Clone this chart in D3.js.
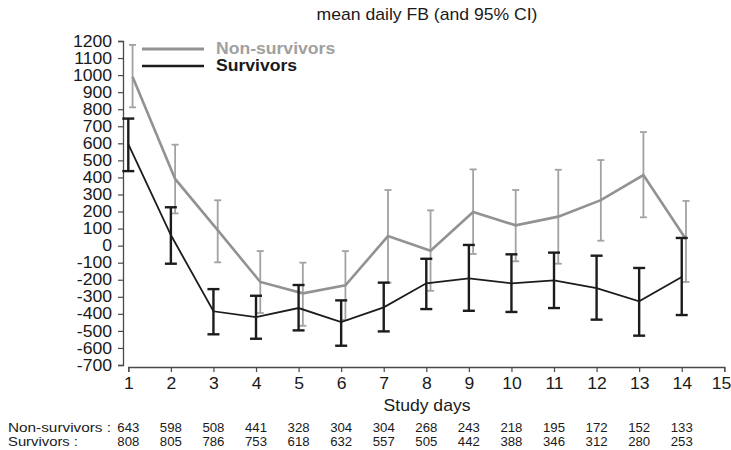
<!DOCTYPE html>
<html><head><meta charset="utf-8">
<script src="https://cdn.jsdelivr.net/npm/d3@7"></script>
<style>body{margin:0;background:#fff}svg{display:block}text{font-family:"Liberation Sans",Arial,sans-serif}</style>
</head><body>
<svg id="c" width="731" height="450"></svg>
<script>
const days = [1,2,3,4,5,6,7,8,9,10,11,12,13,14];
const nonSurvMean  = [990, 391, 91, -213, -280, -233, 56, -30, 197, 119, 170, 267, 414, 37];
const nonSurvUpper = [1177, 592, 266, -32, -100, -32, 326, 207, 447, 326, 445, 502, 666, 262];
const nonSurvLower = [811, 189, -98, -395, -470, -436, -217, -265, -49, -92, -106, 29, 166, -213];
const survMean  = [595, 62, -385, -419, -366, -448, -362, -221, -192, -221, -204, -249, -327, -184];
const survUpper = [745, 225, -255, -294, -231, -321, -217, -77, 4, -51, -41, -59, -131, 45];
const survLower = [437, -106, -520, -546, -497, -587, -503, -372, -382, -389, -366, -434, -528, -407];
const xTicks = [1,2,3,4,5,6,7,8,9,10,11,12,13,14,15];
const yTicks = [1200,1100,1000,900,800,700,600,500,400,300,200,100,0,-100,-200,-300,-400,-500,-600,-700];
const nNonSurv = [643,598,508,441,328,304,304,268,243,218,195,172,152,133];
const nSurv    = [808,805,786,753,618,632,557,505,442,388,346,312,280,253];

const SX = 1.1;
const GREY_LINE = "#929292", GREY_BAR = "#a2a2a2", BLACK = "#1c1c1c", AXIS = "#4a4a4a";
const greyOffset = 0.1;
const fmt = d => String(d);

const svg = d3.select("#c");
const x = d3.scaleLinear().domain([1,15]).range([128.3, 724.3]);
const y = d3.scaleLinear().domain([-700,1200]).range([365, 41]);

function stext(g, tx, ty, str, size, anchor, opts={}) {
  const t = g.append("text")
    .attr("transform", `translate(${tx},${ty}) scale(${SX},1)`)
    .attr("font-size", size).attr("text-anchor", anchor)
    .attr("fill", opts.fill || "#1a1a1a")
    .text(str);
  if (opts.bold) t.attr("font-weight", "bold");
  return t;
}

// Title
stext(svg, 427, 20, "mean daily FB (and 95% CI)", 16, "middle");

// Y axis
const yAxis = svg.append("g").attr("transform", "translate(123,0)")
  .call(d3.axisLeft(y).tickValues(yTicks).tickFormat(fmt).tickSizeOuter(0).tickSize(5).tickPadding(5));
yAxis.select(".domain").attr("stroke", AXIS).attr("stroke-width", 1.3);
yAxis.selectAll(".tick line").attr("stroke", AXIS).attr("stroke-width", 1.2);
yAxis.selectAll(".tick text").attr("font-size", 16).attr("fill", "#1a1a1a")
  .attr("font-family", "Liberation Sans, Arial, sans-serif")
  .attr("x", -10).attr("transform", `scale(${SX},1)`);

// X axis
const xAxis = svg.append("g").attr("transform", "translate(0,367)")
  .call(d3.axisBottom(x).tickValues(xTicks).tickFormat(fmt).tickSizeOuter(0).tickSize(5).tickPadding(6));
xAxis.select(".domain").attr("stroke", AXIS).attr("stroke-width", 1.3);
xAxis.selectAll(".tick line").attr("stroke", AXIS).attr("stroke-width", 1.2);
xAxis.selectAll(".tick text").attr("font-size", 16).attr("fill", "#1a1a1a")
  .attr("font-family", "Liberation Sans, Arial, sans-serif")
  .attr("transform", `scale(${SX},1)`)
  .attr("x", d => d === 15 ? -3 : 0);

stext(svg, 427, 411, "Study days", 16, "middle");

// Counts rows
svg.append("text").attr("x", 8).attr("y", 431.5).attr("font-size", 12)
  .attr("fill", "#1a1a1a").attr("textLength", 103).attr("lengthAdjust", "spacingAndGlyphs")
  .text("Non-survivors :");
svg.append("text").attr("x", 8).attr("y", 445.5).attr("font-size", 12)
  .attr("fill", "#1a1a1a").attr("textLength", 70).attr("lengthAdjust", "spacingAndGlyphs")
  .text("Survivors :");
days.forEach((d,i) => {
  stext(svg, x(d), 431.5, String(nNonSurv[i]), 12, "middle");
  stext(svg, x(d), 445.5, String(nSurv[i]), 12, "middle");
});

// Series
function drawSeries(mean, lo, hi, off, lineColor, barColor, lineW, barW, capHalf) {
  const g = svg.append("g");
  const data = days.map((d,i) => ({d, m: mean[i], lo: lo[i], hi: hi[i]}));
  const bars = g.selectAll("g.eb").data(data).enter().append("g");
  bars.append("line").attr("x1", p => x(p.d + off)).attr("x2", p => x(p.d + off))
    .attr("y1", p => y(p.hi)).attr("y2", p => y(p.lo))
    .attr("stroke", barColor).attr("stroke-width", barW);
  [ "hi", "lo" ].forEach(k => {
    bars.append("line").attr("x1", p => x(p.d + off) - capHalf).attr("x2", p => x(p.d + off) + capHalf)
      .attr("y1", p => y(p[k])).attr("y2", p => y(p[k]))
      .attr("stroke", barColor).attr("stroke-width", barW);
  });
  g.append("path").datum(data)
    .attr("d", d3.line().x(p => x(p.d + off)).y(p => y(p.m)))
    .attr("fill", "none").attr("stroke", lineColor).attr("stroke-width", lineW)
    .attr("stroke-linejoin", "miter");
}
drawSeries(nonSurvMean, nonSurvLower, nonSurvUpper, greyOffset, GREY_LINE, GREY_BAR, 2.6, 1.8, 3.5);
drawSeries(survMean, survLower, survUpper, 0, BLACK, BLACK, 1.8, 2.4, 6);

// Legend
const lg = svg.append("g");
lg.append("line").attr("x1", 142).attr("x2", 204).attr("y1", 49).attr("y2", 49)
  .attr("stroke", GREY_LINE).attr("stroke-width", 3);
lg.append("line").attr("x1", 142).attr("x2", 204).attr("y1", 66).attr("y2", 66)
  .attr("stroke", BLACK).attr("stroke-width", 2.6);
stext(lg, 216, 54, "Non-survivors", 16, "start", {bold: true, fill: "#a0a0a0"});
stext(lg, 216, 71, "Survivors", 16, "start", {bold: true, fill: "#1a1a1a"});
</script>
</body></html>
